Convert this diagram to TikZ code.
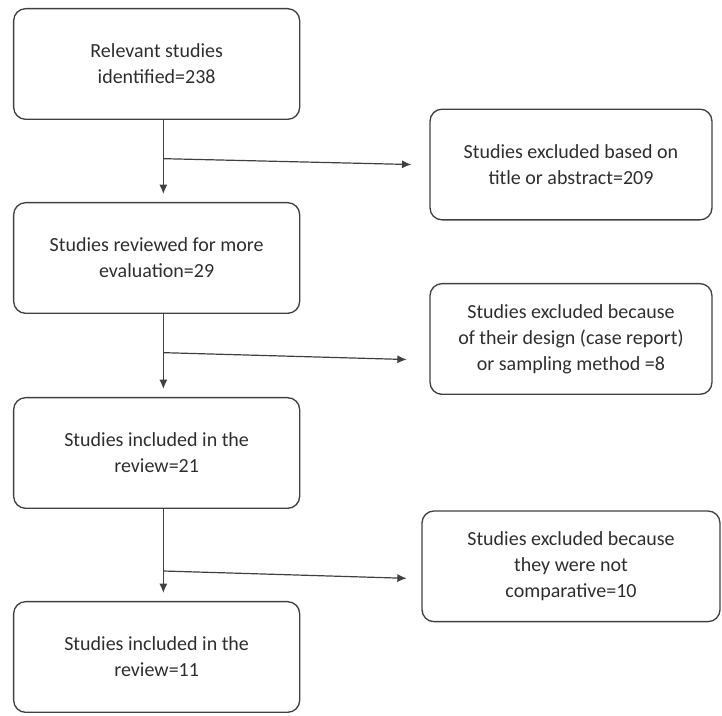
\documentclass[tikz,border=0pt]{standalone}
\usepackage{fontspec}
\setmainfont{Carlito}
\usetikzlibrary{arrows.meta,positioning,calc}
\definecolor{linegray}{HTML}{404040}
\definecolor{textgray}{HTML}{2E2E2E}

\begin{document}
\begin{tikzpicture}[>={Latex[length=7pt,width=6pt]},
  font=\fontsize{15}{19.5}\selectfont, text=textgray,
  stage/.style={draw=linegray, line width=1pt, rounded corners=9pt, minimum width=214.5pt, minimum height=83pt, align=center},
  excl/.style={stage, minimum width=211.5pt},
  flow/.style={->, draw=linegray, line width=0.9pt}]
\node[stage] (b1) {Relevant studies\\ identified=238};
\node[stage, below=61.5pt of b1] (b2) {Studies reviewed for more\\ evaluation=29};
\node[stage, below=62.25pt of b2] (b3) {Studies included in the\\ review=21};
\node[stage, below=69pt of b3] (b4) {Studies included in the\\ review=11};
\node[excl, right=96.75pt of b1, yshift=-75.4pt] (r1) {Studies excluded based on\\ title or abstract=209};
\node[excl, right=96.75pt of b2, yshift=-60.75pt] (r2) {Studies excluded because\\ of their design (case report)\\ or sampling method =8};
\node[excl, minimum width=223.5pt, right=90.75pt of b3, yshift=-85pt] (r3) {Studies excluded because\\ they were not\\ comparative=10};
% main line
\draw[flow, shorten >=6pt] ([xshift=5pt]b1.south) -- ([xshift=5pt]b2.north);
\draw[flow, shorten >=6pt] ([xshift=5pt]b2.south) -- ([xshift=5pt]b3.north);
\draw[flow, shorten >=6pt] ([xshift=5pt]b3.south) -- ([xshift=5pt]b4.north);
% exclusions
\coordinate (j1) at ([xshift=5pt,yshift=-29pt]b1.south);
\coordinate (j2) at ([xshift=5pt,yshift=-29pt]b2.south);
\coordinate (j3) at ([xshift=5pt,yshift=-46.5pt]b3.south);
\draw[flow] (j1) -- ([xshift=-13.5pt]r1.west);
\draw[flow] (j2) -- ([xshift=-17pt,yshift=-15.4pt]r2.west);
\draw[flow] (j3) -- ([xshift=-11pt,yshift=-9pt]r3.west);
\path[use as bounding box] ($(b1.north west)+(-9.75pt,6pt)$) rectangle ++(541.5pt,-537pt);
\end{tikzpicture}
\end{document}
